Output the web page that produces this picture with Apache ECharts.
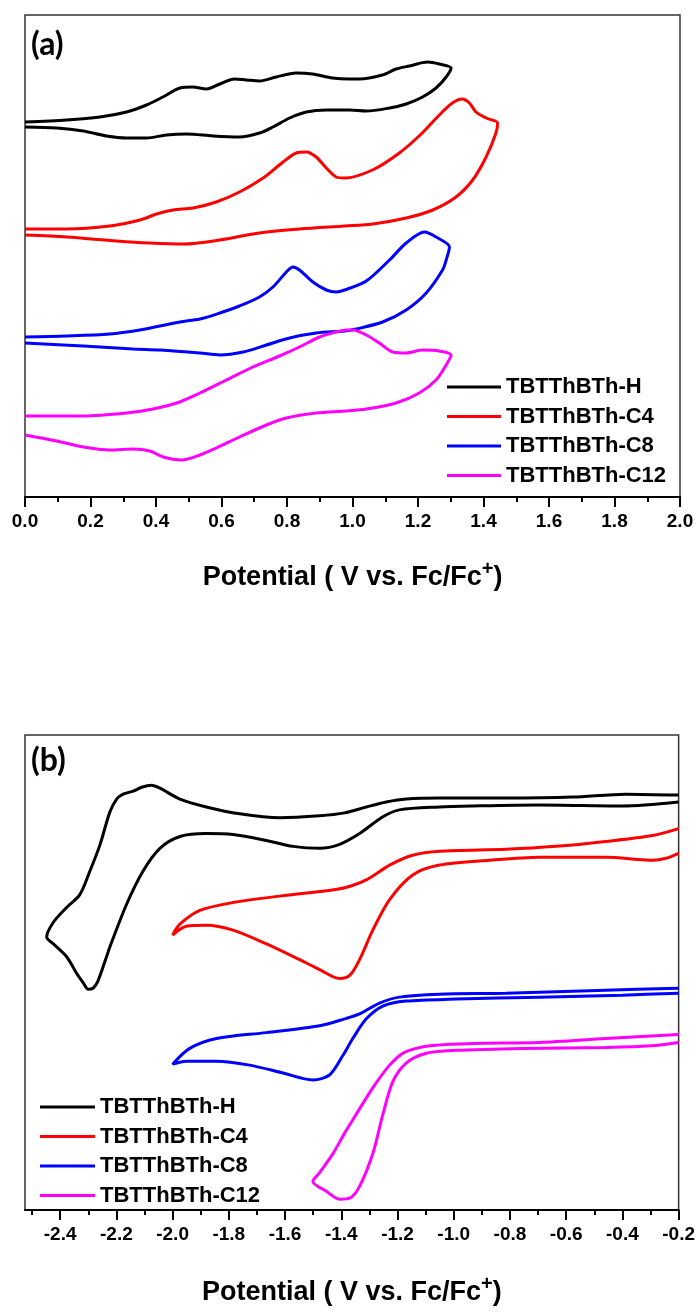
<!DOCTYPE html>
<html>
<head>
<meta charset="utf-8">
<script src="https://cdn.jsdelivr.net/npm/echarts@6/dist/echarts.min.js"></script>
<style>
html,body{margin:0;padding:0;background:#fff;}
#c{width:698px;height:1313px;}
</style>
</head>
<body>
<div id="c"></div>
<script>
// ---- Data (x: potential in V vs Fc/Fc+, y: current in arbitrary units) ----
const seriesNames = ['TBTThBTh-H', 'TBTThBTh-C4', 'TBTThBTh-C8', 'TBTThBTh-C12'];
const seriesColors = ['#000000', '#ff0000', '#0000ff', '#ff00ff'];

// Panel (a): oxidation scans
const oxH = [[0,375],[0.127,377],[0.229,380],[0.310,385],[0.371,392],[0.421,400],[0.473,409],[0.512,410],[0.554,408],[0.595,413],[0.640,418],[0.676,417],[0.716,416],[0.767,420],[0.828,424],[0.878,423],[0.939,419],[0.991,418],[1.021,418],[1.091,422],[1.133,428],[1.174,431],[1.229,435],[1.265,433],[1.301,429],[1.286,420],[1.255,409],[1.214,400],[1.164,393],[1.113,389],[1.042,386],[0.991,387],[0.920,387],[0.859,385],[0.808,379],[0.757,370],[0.716,364],[0.655,360],[0.574,361],[0.493,363],[0.432,362],[0.371,359],[0.310,359],[0.249,361],[0.178,366],[0.097,369],[0,370]];
const oxC4 = [[0,268],[0.127,268],[0.259,271],[0.351,277],[0.402,283],[0.452,287],[0.513,289],[0.584,295],[0.655,305],[0.727,319],[0.788,335],[0.828,344],[0.859,345],[0.889,340],[0.920,329],[0.950,320],[0.976,319],[1.061,327],[1.143,344],[1.213,364],[1.265,382],[1.305,394],[1.335,398],[1.357,394],[1.377,385],[1.408,379],[1.443,374],[1.438,364],[1.408,340],[1.367,317],[1.316,300],[1.245,287],[1.164,279],[1.062,273],[0.976,271],[0.838,268],[0.716,264],[0.595,257],[0.483,253],[0.381,254],[0.280,256],[0.127,260],[0,262]];
const oxC8 = [[0,160],[0.127,161],[0.259,163],[0.351,167],[0.412,171],[0.473,175],[0.534,178],[0.595,184],[0.655,191],[0.716,200],[0.757,210],[0.798,225],[0.818,230],[0.838,227],[0.879,215],[0.920,207],[0.950,205],[0.976,207],[1.042,216],[1.113,237],[1.164,254],[1.220,265],[1.255,260],[1.296,250],[1.286,237],[1.275,227],[1.225,204],[1.164,187],[1.092,175],[1.011,168],[0.976,166],[0.889,164],[0.808,159],[0.737,152],[0.666,145],[0.595,142],[0.534,144],[0.412,147],[0.330,148],[0.178,151],[0,154]];
const oxC12 = [[0,81],[0.178,81],[0.310,84],[0.391,88],[0.463,94],[0.534,104],[0.615,117],[0.696,130],[0.777,141],[0.838,150],[0.899,160],[0.950,165],[0.982,167],[1.001,167],[1.042,162],[1.082,154],[1.123,145],[1.164,144],[1.214,147],[1.265,146],[1.301,142],[1.286,132],[1.255,117],[1.204,104],[1.133,94],[1.042,88],[0.976,86],[0.889,84],[0.798,79],[0.737,72],[0.655,60],[0.584,49],[0.534,42],[0.478,37],[0.422,40],[0.381,46],[0.330,48],[0.259,47],[0.178,50],[0.097,56],[0,62]];

// Panel (b): reduction scans
const redH = [[-0.2,421],[-0.388,422],[-0.577,419],[-0.814,418],[-1.051,418],[-1.169,417],[-1.240,414],[-1.311,409],[-1.388,403],[-1.477,400],[-1.619,398],[-1.761,402],[-1.880,409],[-1.974,417],[-2.045,428],[-2.075,431],[-2.110,429],[-2.140,425],[-2.176,422],[-2.199,417],[-2.223,404],[-2.259,370],[-2.294,344],[-2.330,320],[-2.377,307],[-2.424,292],[-2.448,277],[-2.424,270],[-2.377,257],[-2.341,240],[-2.319,231],[-2.300,224],[-2.283,225],[-2.266,232],[-2.235,257],[-2.223,267],[-2.164,310],[-2.105,344],[-2.045,367],[-1.974,379],[-1.880,382],[-1.785,381],[-1.666,375],[-1.572,369],[-1.477,367],[-1.406,371],[-1.335,382],[-1.252,399],[-1.193,406],[-1.051,409],[-0.932,410],[-0.695,411],[-0.400,410],[-0.2,414]];
const redC4 = [[-0.2,387],[-0.293,380],[-0.459,374],[-0.636,369],[-0.814,366],[-1.051,364],[-1.146,360],[-1.228,350],[-1.311,335],[-1.388,327],[-1.453,324],[-1.607,319],[-1.785,312],[-1.903,304],[-1.974,290],[-2.000,279],[-1.951,288],[-1.880,289],[-1.785,284],[-1.666,270],[-1.548,254],[-1.477,244],[-1.406,235],[-1.370,238],[-1.335,254],[-1.288,284],[-1.228,315],[-1.146,340],[-1.051,350],[-0.873,355],[-0.695,358],[-0.459,358],[-0.293,355],[-0.245,357],[-0.2,362]];
const redC8 = [[-0.2,225],[-0.459,223],[-0.814,220],[-1.051,219],[-1.193,216],[-1.264,210],[-1.335,199],[-1.388,194],[-1.477,187],[-1.666,180],[-1.844,174],[-1.939,164],[-2.000,148],[-1.951,151],[-1.844,151],[-1.726,147],[-1.607,139],[-1.501,132],[-1.442,137],[-1.394,157],[-1.359,174],[-1.311,194],[-1.252,207],[-1.169,212],[-0.991,214],[-0.695,216],[-0.400,218],[-0.2,220]];
const redC12 = [[-0.2,178],[-0.459,174],[-0.695,170],[-0.932,169],[-1.075,167],[-1.134,164],[-1.181,159],[-1.228,147],[-1.288,124],[-1.347,97],[-1.388,78],[-1.430,57],[-1.477,38],[-1.501,29],[-1.453,19],[-1.406,11],[-1.370,12],[-1.335,24],[-1.288,57],[-1.252,97],[-1.217,130],[-1.169,149],[-1.098,159],[-0.991,162],[-0.755,164],[-0.459,165],[-0.281,167],[-0.2,170]];

// Tick values
const ticksB = [-2.4, -2.2, -2.0, -1.8, -1.6, -1.4, -1.2, -1.0, -0.8, -0.6, -0.4, -0.2];
const minorTicksB = [-2.5, -2.3, -2.1, -1.9, -1.7, -1.5, -1.3, -1.1, -0.9, -0.7, -0.5, -0.3];
const axisTitle = 'Potential ( V vs. Fc/Fc';

const dataA = [oxH, oxC4, oxC8, oxC12];
const dataB = [redH, redC4, redC8, redC12];

const labelFont = "'Liberation Sans',Arial,sans-serif";
const legendFont = "'Liberation Sans',Arial,sans-serif";

const titleRich = {
  t: {fontSize: 27, fontWeight: 'bold', fontFamily: legendFont, color: '#000', lineHeight: 34},
  s: {fontSize: 20, fontWeight: 'bold', fontFamily: legendFont, color: '#000', padding: [0, 0, 18, 0], lineHeight: 34}
};
const axisName = '{t|' + axisTitle + '}{s|+}{t|)}';

const chart = echarts.init(document.getElementById('c'), null, {renderer: 'canvas'});

const series = [];
seriesNames.forEach((n, i) => {
  series.push({name: n, type: 'line', xAxisIndex: 0, yAxisIndex: 0, data: dataA[i], symbol: 'none', smooth: 0.3,
    lineStyle: {color: seriesColors[i], width: 3}, itemStyle: {color: seriesColors[i]}, z: 3});
});
seriesNames.forEach((n, i) => {
  series.push({name: n, type: 'line', xAxisIndex: 1, yAxisIndex: 1, data: dataB[i], symbol: 'none', smooth: 0.3,
    lineStyle: {color: seriesColors[i], width: 3}, itemStyle: {color: seriesColors[i]}, z: 3});
});

const legendText = {fontSize: 22, fontWeight: 'bold', fontFamily: legendFont, color: '#000', lineHeight: 22};
const option = {
  animation: false,
  backgroundColor: '#fff',
  title: [
    {text: '(a)', left: 31, top: 29, padding: 0, textStyle: {fontSize: 32, fontWeight: 'bold', fontFamily: 'Lato, sans-serif', color: '#000'}},
    {text: '(b)', left: 31, top: 745, padding: 0, textStyle: {fontSize: 32, fontWeight: 'bold', fontFamily: 'Lato, sans-serif', color: '#000'}}
  ],
  legend: [
    {data: seriesNames, orient: 'vertical', left: 447, top: 376, icon: 'rect', itemWidth: 54, itemHeight: 3, itemGap: 7.5, padding: 0, textStyle: legendText},
    {data: seriesNames, orient: 'vertical', left: 40, top: 1096, icon: 'rect', itemWidth: 55, itemHeight: 3, itemGap: 7.5, padding: 0, textStyle: legendText}
  ],
  grid: [
    {left: 25, top: 15, width: 655, height: 482, show: true, borderColor: '#333', borderWidth: 1.5, containLabel: false},
    {left: 25, top: 735, width: 655, height: 482, show: true, borderColor: '#333', borderWidth: 1.5, containLabel: false}
  ],
  xAxis: [
    {type: 'value', gridIndex: 0, min: 0, max: 2, interval: 0.2, position: 'bottom',
     axisLine: {show: true, onZero: false, lineStyle: {color: '#000', width: 2}},
     axisTick: {show: true, length: 10, lineStyle: {color: '#000', width: 2}},
     minorTick: {show: true, splitNumber: 2, length: 5, lineStyle: {color: '#000', width: 2}},
     splitLine: {show: false}, minorSplitLine: {show: false},
     axisLabel: {margin: 15, fontSize: 19, fontWeight: 'bold', fontFamily: labelFont, color: '#000', formatter: v => v.toFixed(1)},
     name: axisName, nameLocation: 'middle', nameGap: 64, nameTextStyle: {rich: titleRich}},
    {type: 'value', gridIndex: 1, min: -2.525, max: -0.2, position: 'bottom',
     axisLine: {show: true, onZero: false, lineStyle: {color: '#000', width: 2}},
     axisTick: {show: true, length: 10, customValues: ticksB, lineStyle: {color: '#000', width: 2}},
     splitLine: {show: false},
     axisLabel: {margin: 15, fontSize: 19, fontWeight: 'bold', fontFamily: labelFont, color: '#000', customValues: ticksB, formatter: v => v.toFixed(1)},
     name: axisName, nameLocation: 'middle', nameGap: 66, nameTextStyle: {rich: titleRich}},
    {type: 'value', gridIndex: 1, min: -2.525, max: -0.2, position: 'bottom',
     axisLine: {show: false, onZero: false},
     axisTick: {show: true, length: 5, customValues: minorTicksB, lineStyle: {color: '#000', width: 2}},
     splitLine: {show: false},
     axisLabel: {show: false}}
  ],
  yAxis: [
    {type: 'value', gridIndex: 0, min: 0, max: 482, show: false},
    {type: 'value', gridIndex: 1, min: 0, max: 482, show: false}
  ],
  series: series
};
chart.setOption(option);
</script>
</body>
</html>
